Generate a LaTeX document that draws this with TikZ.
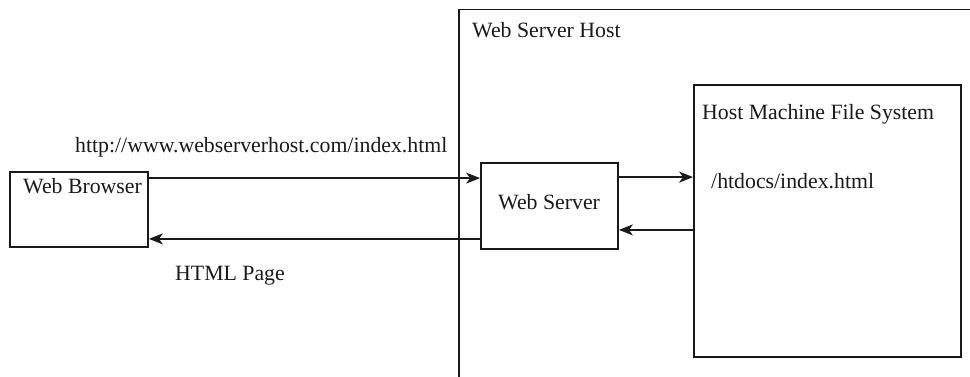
\documentclass[tikz,border=0pt]{standalone}
\usepackage{fontspec}
\setmainfont{Liberation Serif}
\usetikzlibrary{arrows.meta}
\definecolor{ink}{HTML}{1A1A1A}
\tikzset{
  box/.style={draw=ink, line width=1.8pt, inner sep=0pt, minimum width=#1},
  lbl/.style={anchor=base west, inner sep=0pt, text=ink, font=\fontsize{21.8}{26}\selectfont},
  arr/.style={draw=ink, line width=1.8pt, -{Stealth[length=14pt,width=11pt,inset=4pt]}}
}
\begin{document}
\begin{tikzpicture}[x=1pt,y=-1pt]
\useasboundingbox (0,0) rectangle (970,376);
\fill[white] (0,0) rectangle (970,376);
\begin{scope}
\clip (0,0) rectangle (970,376);
\node[box=520pt, minimum height=380pt] (host) at (719,199.5) {};
\end{scope}
\node[box=138pt, minimum height=75pt] (browser) at (79,209.5) {};
\node[box=137pt, minimum height=86pt] (server) at (549.5,206) {};
\node[box=267pt, minimum height=272pt] (fs) at (827.5,221) {};

\node[lbl] (t1) at (75,152) {http://www.webserverhost.com/index.html};
\node[lbl] (t2) at (23,193) {Web Browser};
\node[lbl] (t3) at (175,280) {HTML Page};
\node[lbl] (t4) at (472,37) {Web Server Host};
\node[lbl] (t5) at (498,209) {Web Server};
\node[lbl] (t6) at (702,119) {Host Machine File System};
\node[lbl] (t7) at (711,188) {/htdocs/index.html};

\coordinate (a1) at ([yshift=-7pt]browser.north east);
\coordinate (a2) at ([yshift=9pt]browser.south east);
\coordinate (a3) at ([yshift=-15pt]server.north east);
\coordinate (a4) at ([yshift=20pt]server.south east);
\draw[arr] (a1) -- (a1 -| server.west);
\draw[arr] (a2 -| server.west) -- (a2);
\draw[arr] (a3) -- (a3 -| fs.west);
\draw[arr] (a4 -| fs.west) -- (a4);
\end{tikzpicture}
\end{document}
